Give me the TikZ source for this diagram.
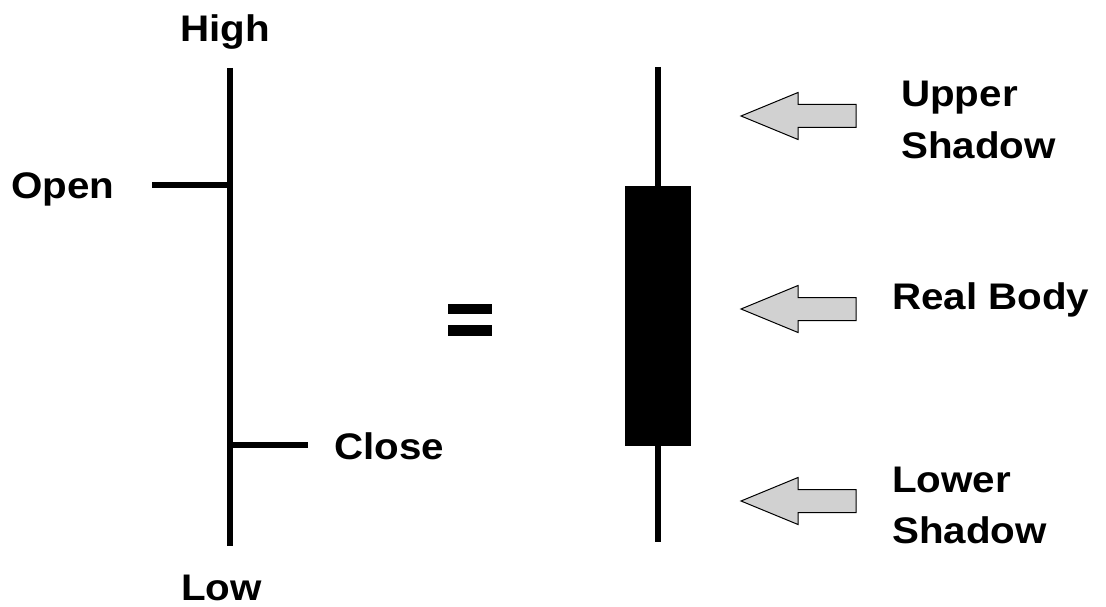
\documentclass[tikz,border=0pt]{standalone}
\usepackage{fontspec}
\setmainfont{Liberation Sans}
\begin{document}
\begin{tikzpicture}[x=1pt,y=-1pt,
  lbl/.style={font=\fontsize{37}{37}\selectfont\bfseries, inner sep=0pt, anchor=base west, xscale=1.09, transform shape},
  bar/.style={line width=5.5pt},
  bigarrow/.style={draw=black, line width=1pt, fill=black!18, line join=miter}]
\useasboundingbox (0,0) rectangle (1106,607);
% left OHLC bar
\coordinate (hi) at (230,68);
\coordinate (lo) at (230,546);
\coordinate (op) at (152,185);
\coordinate (opj) at (230,185);
\coordinate (clj) at (230,445);
\coordinate (cl) at (308,445);
\draw[bar] (hi) -- (lo);
\draw[bar] (op) -- (opj);
\draw[bar] (clj) -- (cl);
\node[lbl] (tHigh) at (180,42) {High};
\node[lbl] (tOpen) at (11,198) {Open};
\node[lbl] (tClose) at (334,459) {Close};
\node[lbl] (tLow) at (181,600) {Low};
% equals
\fill (448,304) rectangle (492,314);
\fill (448,325) rectangle (492,336);
% candle
\coordinate (wt) at (658,67);
\coordinate (wb) at (658,542);
\draw[line width=6pt] (wt) -- (wb);
\fill (625,186) rectangle (691,446);
% arrows
\foreach \yc in {116,309,501}{
  \draw[bigarrow] (741,\yc) -- (798,\yc-23.5) -- (798,\yc-11.5) -- (856,\yc-11.5)
     -- (856,\yc+11.5) -- (798,\yc+11.5) -- (798,\yc+23.5) -- cycle;
}
\node[lbl] (tUpper) at (901,107) {Upper};
\node[lbl] (tUS) at (901,158) {Shadow};
\node[lbl] (tReal) at (892,309) {Real Body};
\node[lbl] (tLower) at (892,492) {Lower};
\node[lbl] (tLS) at (892,543) {Shadow};
\end{tikzpicture}
\end{document}
